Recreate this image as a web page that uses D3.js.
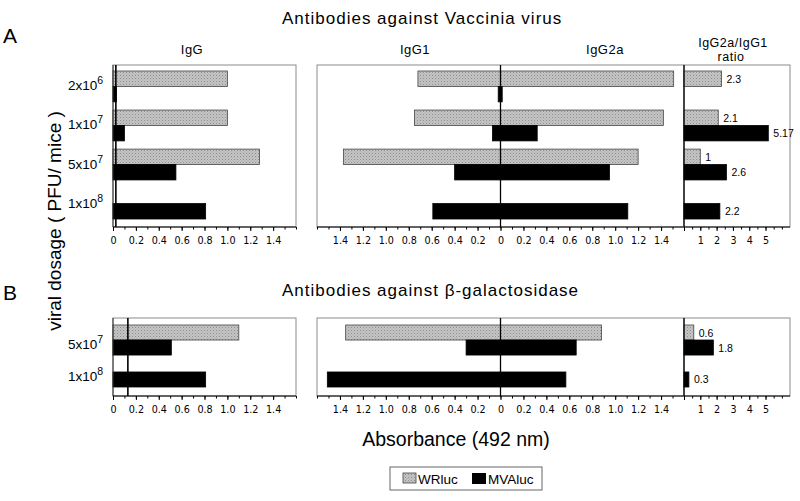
<!DOCTYPE html>
<html><head><meta charset="utf-8">
<script src="https://cdn.jsdelivr.net/npm/d3@7"></script>
<style>
body{margin:0;background:#fff;}
svg text{font-family:"Liberation Sans",Arial,Helvetica,sans-serif;fill:#000;}
.tick text{font-family:"DejaVu Sans",Verdana,sans-serif;}
</style></head><body>
<svg id="c" width="800" height="501"></svg>
<script>
// ---------- data ----------
const categoriesA = ["2x10^6", "1x10^7", "5x10^7", "1x10^8"];
const categoriesB = ["5x10^7", "1x10^8"];
const seriesNames = ["WRluc", "MVAluc"];

// Panel A (Vaccinia virus)
const igG_A_WR    = [1.00, 1.00, 1.28, null];
const igG_A_MVA   = [0.03, 0.10, 0.55, 0.81];
const igG1_A_WR   = [0.72, 0.75, 1.37, null];
const igG1_A_MVA  = [0.02, 0.07, 0.40, 0.59];
const igG2a_A_WR  = [1.51, 1.42, 1.20, null];
const igG2a_A_MVA = [0.015, 0.32, 0.95, 1.11];
const ratio_A_WR  = [2.3, 2.1, 1, null];
const ratio_A_MVA = [null, 5.17, 2.6, 2.2];
const cutoffA = 0.025;

// Panel B (beta-galactosidase)
const igG_B_WR    = [1.10, null];
const igG_B_MVA   = [0.51, 0.81];
const igG1_B_WR   = [1.35, null];
const igG1_B_MVA  = [0.30, 1.51];
const igG2a_B_WR  = [0.88, null];
const igG2a_B_MVA = [0.66, 0.57];
const ratio_B_WR  = [0.6, null];
const ratio_B_MVA = [1.8, 0.3];
const cutoffB = 0.13;

// tick labels
const absTicks = [0, 0.2, 0.4, 0.6, 0.8, 1.0, 1.2, 1.4];
const ratioTicks = [1, 2, 3, 4, 5];

// ---------- drawing ----------
const svg = d3.select("#c");
const defs = svg.append("defs");
const pat = defs.append("pattern").attr("id","stip").attr("patternUnits","userSpaceOnUse")
  .attr("width",3).attr("height",3);
pat.append("rect").attr("width",3).attr("height",3).attr("fill","#c4c4c4");
pat.append("rect").attr("x",0).attr("y",0).attr("width",1).attr("height",1).attr("fill","#8e8e8e");
pat.append("rect").attr("x",1.5).attr("y",1.5).attr("width",1).attr("height",1).attr("fill","#a4a4a4");

const GRAY = "url(#stip)";
const fmtAbs = d => d === 0 ? "0" : Math.abs(d).toFixed(1);
const range = (a,b,s) => d3.range(Math.round(a/s), Math.round(b/s)+1).map(i => +(i*s).toFixed(3));

function makeY(cats, r, pad){ return d3.scaleBand().domain(cats).range(r).paddingInner(pad).paddingOuter(0); }

function axis(g, x, y0, minorVals, majorVals, fmt){
  const gm = g.append("g").attr("transform",`translate(0,${y0})`)
    .call(d3.axisBottom(x).tickValues(minorVals).tickSize(2.5).tickFormat(""));
  gm.select(".domain").remove();
  gm.selectAll("line").attr("stroke","#000");
  const ga = g.append("g").attr("transform",`translate(0,${y0})`)
    .call(d3.axisBottom(x).tickValues(majorVals).tickSize(4).tickPadding(6).tickFormat(fmt));
  ga.select(".domain").attr("stroke","#000").attr("d",`M${x.range()[0]},0H${x.range()[1]}`);
  ga.selectAll("text").attr("font-size",9.6);
  ga.selectAll("line").attr("stroke","#000");
}

function frame(g, x0, x1, y0, y1){
  g.append("rect").attr("x",x0).attr("y",y0).attr("width",x1-x0).attr("height",y1-y0)
    .attr("fill","none").attr("stroke","#8c8c8c").attr("stroke-width",1);
}

function hbars(g, x, y, cats, vals, fill, half, sign){
  const bw = y.bandwidth()/2;
  cats.forEach((c,i) => {
    const v = vals[i];
    if (v == null) return;
    const a = x(0), b = x(sign*v);
    g.append("rect")
      .attr("x", Math.min(a,b)).attr("width", Math.abs(b-a))
      .attr("y", y(c) + (half ? bw : 0)).attr("height", bw)
      .attr("fill", fill)
      .attr("stroke", fill === GRAY ? "#444" : "#000").attr("stroke-width", 0.8);
  });
}

function doseLabels(g, y, cats, xr, dy){
  cats.forEach(c => {
    const [base, ex] = c.split("^");
    const t = g.append("text").attr("x", xr).attr("y", y(c) + y.bandwidth()/2 + dy)
      .attr("text-anchor","end").attr("font-size",13.5);
    t.append("tspan").text(base);
    t.append("tspan").attr("font-size",10.5).attr("dy",-6).text(ex);
  });
}

function section(cfg){
  const g = svg.append("g");
  const y = makeY(cfg.cats, cfg.band, cfg.pad);
  // IgG panel
  const xG = d3.scaleLinear().domain([0,1.6]).range([113,296]);
  frame(g, 113, 296, cfg.top, cfg.bot);
  hbars(g, xG, y, cfg.cats, cfg.igG[0], GRAY, false, 1);
  hbars(g, xG, y, cfg.cats, cfg.igG[1], "#000", true, 1);
  g.append("line").attr("x1",xG(0)).attr("x2",xG(0)).attr("y1",cfg.top).attr("y2",cfg.bot).attr("stroke","#333");
  g.append("line").attr("x1",xG(cfg.cutoff)).attr("x2",xG(cfg.cutoff)).attr("y1",cfg.top).attr("y2",cfg.bot)
    .attr("stroke","#000").attr("stroke-width",1.6);
  axis(g, xG, cfg.bot, range(0,1.6,0.1), absTicks, fmtAbs);

  // IgG1 / IgG2a panel
  const xM = d3.scaleLinear().domain([-1.6,1.6]).range([317,684]);
  frame(g, 317, 684, cfg.top, cfg.bot);
  hbars(g, xM, y, cfg.cats, cfg.igG1[0], GRAY, false, -1);
  hbars(g, xM, y, cfg.cats, cfg.igG2a[0], GRAY, false, 1);
  hbars(g, xM, y, cfg.cats, cfg.igG1[1], "#000", true, -1);
  hbars(g, xM, y, cfg.cats, cfg.igG2a[1], "#000", true, 1);
  g.append("line").attr("x1",xM(0)).attr("x2",xM(0)).attr("y1",cfg.top).attr("y2",cfg.bot).attr("stroke","#000").attr("stroke-width",1.3);
  const midTicks = absTicks.slice(1).reverse().map(d=>-d).concat(absTicks);
  axis(g, xM, cfg.bot, range(-1.6,1.6,0.1), midTicks, fmtAbs);

  // ratio panel
  const xR = d3.scaleLinear().domain([0,6.5]).range([684,790]);
  frame(g, 684, 790, cfg.top, cfg.bot);
  const bw = y.bandwidth()/2;
  [[cfg.ratio[0], GRAY, 0], [cfg.ratio[1], "#000", 1]].forEach(([vals, fill, half]) => {
    cfg.cats.forEach((c,i) => {
      const v = vals[i]; if (v == null) return;
      g.append("rect").attr("x",xR(0)).attr("width",xR(v)-xR(0))
        .attr("y", y(c)+half*bw).attr("height",bw).attr("fill",fill)
        .attr("stroke", fill===GRAY ? "#444" : "#000").attr("stroke-width",0.8);
      g.append("text").attr("x", xR(v)+5).attr("y", y(c)+half*bw+bw/2+4)
        .attr("font-family","DejaVu Sans, Verdana, sans-serif").attr("font-size",10.5).text(String(v));
    });
  });
  g.append("line").attr("x1",xR(0)).attr("x2",xR(0)).attr("y1",cfg.top).attr("y2",cfg.bot).attr("stroke","#000").attr("stroke-width",1.2);
  axis(g, xR, cfg.bot, range(0,6,0.5), [0].concat(ratioTicks), d => d===0 ? "" : String(d));

  doseLabels(g, y, cfg.cats, 103, cfg.labelDy);
}

section({cats: categoriesA, top: 65, bot: 227, band: [71, 219], pad: 0.21, labelDy: 4,
  igG: [igG_A_WR, igG_A_MVA], igG1: [igG1_A_WR, igG1_A_MVA], igG2a: [igG2a_A_WR, igG2a_A_MVA],
  ratio: [ratio_A_WR, ratio_A_MVA], cutoff: cutoffA});
section({cats: categoriesB, top: 318, bot: 396, band: [325, 387], pad: 0.06, labelDy: 9,
  igG: [igG_B_WR, igG_B_MVA], igG1: [igG1_B_WR, igG1_B_MVA], igG2a: [igG2a_B_WR, igG2a_B_MVA],
  ratio: [ratio_B_WR, ratio_B_MVA], cutoff: cutoffB});

// titles & labels
svg.append("text").attr("x",282).attr("y",24).attr("font-size",17).attr("letter-spacing",1)
  .text("Antibodies against Vaccinia virus");
svg.append("text").attr("x",282).attr("y",296).attr("font-size",17).attr("letter-spacing",1)
  .text("Antibodies against β-galactosidase");
svg.append("text").attr("x",3).attr("y",43).attr("font-size",21).text("A");
svg.append("text").attr("x",3).attr("y",300).attr("font-size",21).text("B");
[["IgG",192,54,13],["IgG1",415,54,13],["IgG2a",605,54,13],["IgG2a/IgG1",733,47,12.5],["ratio",731,61,12.5]].forEach(([t,x,y,fs]) =>
  svg.append("text").attr("x",x).attr("y",y).attr("text-anchor","middle").attr("font-size",fs).attr("letter-spacing",0.5).text(t));
svg.append("text").attr("transform","translate(61,221) rotate(-90)").attr("text-anchor","middle")
  .attr("font-size",19).text("viral dosage ( PFU/ mice )");
svg.append("text").attr("x",456).attr("y",446).attr("text-anchor","middle").attr("font-size",19.5)
  .text("Absorbance (492 nm)");

// legend
const lg = svg.append("g");
lg.append("rect").attr("x",390).attr("y",467).attr("width",152).attr("height",23).attr("fill","#fff").attr("stroke","#666");
lg.append("rect").attr("x",403).attr("y",473).attr("width",13).attr("height",10).attr("fill",GRAY).attr("stroke","#444").attr("stroke-width",0.8);
lg.append("text").attr("x",418).attr("y",484).attr("font-size",13.5).text(seriesNames[0]);
lg.append("rect").attr("x",472).attr("y",473).attr("width",14).attr("height",11).attr("fill","#000");
lg.append("text").attr("x",488).attr("y",484).attr("font-size",13.5).text(seriesNames[1]);
</script></body></html>
